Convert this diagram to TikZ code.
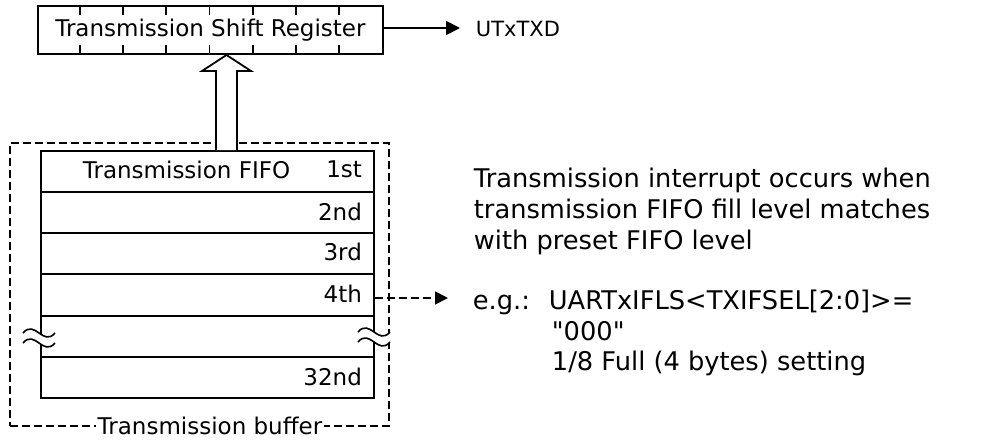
\documentclass[tikz,border=0pt]{standalone}
\usepackage{fontspec}
\setmainfont{DejaVu Sans}
\newfontfamily\plainq{DejaVu Sans}
\usetikzlibrary{arrows.meta}
\begin{document}
\begin{tikzpicture}[x=1pt,y=-1pt,line width=1.8pt,
  lbl/.style={font=\fontsize{23}{27}\selectfont, inner sep=0pt},
  note/.style={font=\fontsize{25.7}{31}\selectfont, inner sep=0pt, anchor=base west},
  rowbox/.style={draw, minimum width=333pt, minimum height=41.3pt, anchor=north west, inner sep=0pt},
  dashline/.style={dash pattern=on 8pt off 4pt},
  brk/.pic={
    \fill[white] (0,0) .. controls (12,-14) and (20,14) .. (32,0) -- (32,10) .. controls (20,24) and (12,-4) .. (0,10) -- cycle;
    \draw[line width=1.6pt] (0,0) .. controls (12,-14) and (20,14) .. (32,0);
    \draw[line width=1.6pt] (0,10) .. controls (12,-4) and (20,24) .. (32,10);
  }]
\useasboundingbox (0,0) rectangle (990,441);

% shift register
\node[draw, lbl, minimum width=345pt, minimum height=48pt, anchor=north west] (sr) at (37,5) {Transmission Shift Register};
\foreach \i in {1,...,7} {
  \draw ([xshift=\i*43.125pt]sr.north west) -- ++(0,10);
  \draw ([xshift=\i*43.125pt]sr.south west) -- ++(0,-10);
}
\coordinate (txd) at (460,28);
\draw[-{Triangle[length=14pt,width=14pt]}] (sr.east |- txd) -- (txd);
\node[lbl, anchor=west, font=\fontsize{21}{25}\selectfont] (utx) at (475,29) {UTxTXD};

% transmission buffer (dashed)
\node[draw, dashline, minimum width=379pt, minimum height=283pt, anchor=north west, inner sep=0pt] (buf) at (9,142) {};
\node[lbl, fill=white, inner xsep=2pt] (bufl) at (210,426) {Transmission buffer};

% FIFO rows
\node[rowbox] (r1) at (40,150) {};
\node[rowbox, minimum height=40.7pt] (r2) at (40,191.3) {};
\node[rowbox, minimum height=40.7pt] (r3) at (40,232) {};
\node[rowbox, minimum height=42pt] (r4) at (40,272.7) {};
\node[rowbox] (r5) at (40,314.7) {};
\node[rowbox] (r6) at (40,356) {};

\node[lbl, anchor=west] (fifo) at ([yshift=2pt]r1.west -| 82,0) {Transmission FIFO};
\node[lbl, anchor=east] (l1) at ([xshift=-12pt,yshift=2pt]r1.east) {1st};
\node[lbl, anchor=east] (l2) at ([xshift=-12pt,yshift=1pt]r2.east) {2nd};
\node[lbl, anchor=east] (l3) at ([xshift=-12pt,yshift=1pt]r3.east) {3rd};
\node[lbl, anchor=east] (l4) at ([xshift=-12pt,yshift=1pt]r4.east) {4th};
\node[lbl, anchor=east] (l6) at ([xshift=-12pt,yshift=1pt]r6.east) {32nd};

% break marks
\pic at (23,333) {brk};
\pic at (358,332) {brk};

% hollow transfer arrow
\draw[fill=white] (216,150) -- (216,71) -- (202,71) -- (226.5,55) -- (251,71) -- (237,71) -- (237,150);

% dashed arrow to note
\coordinate (ega) at (448,298);
\draw[dashline, -{Triangle[length=13pt,width=13pt]}] (r4.east |- ega) -- (ega);

% notes
\node[note] (t1) at (473,187) {Transmission interrupt occurs when};
\node[note] (t2) at (473,218) {transmission FIFO fill level matches};
\node[note] (t3) at (473,249) {with preset FIFO level};
\node[note] (t4) at (472,309) {e.g.:};
\node[note] (t5) at (548,309) {UARTxIFLS<TXIFSEL[2:0]>=};
\node[note] (t6) at (551,340) {\plainq "000"};
\node[note] (t7) at (551,370) {1/8 Full (4 bytes) setting};
\end{tikzpicture}
\end{document}
